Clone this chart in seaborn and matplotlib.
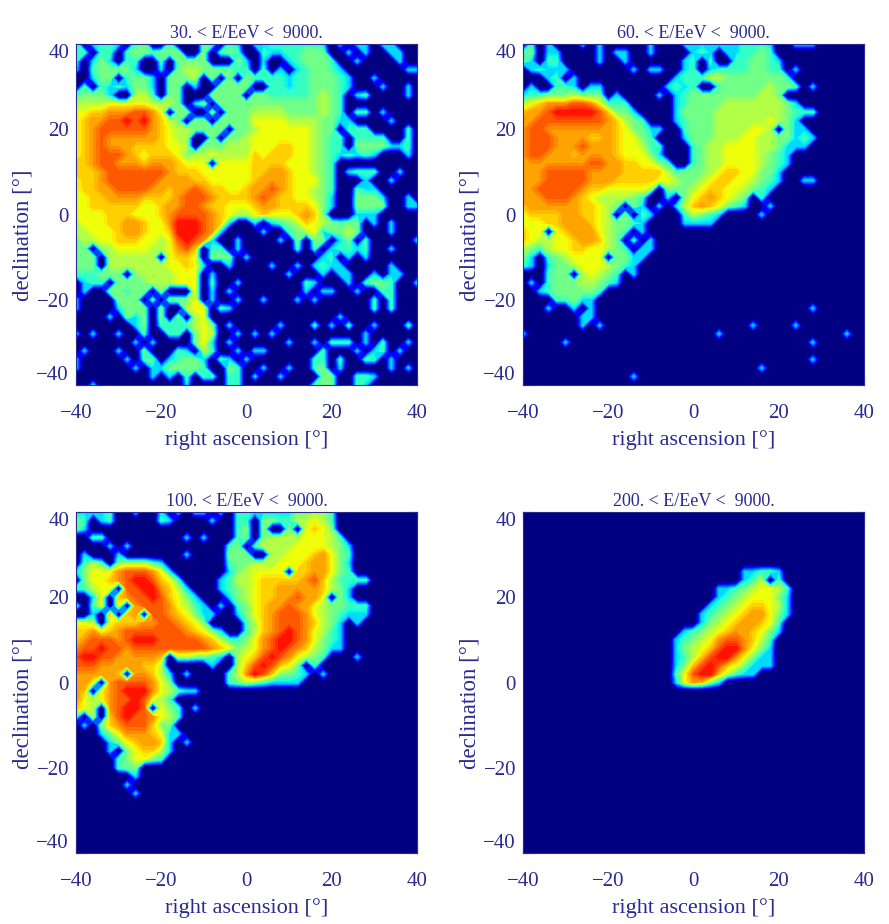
import numpy as np
import pandas as pd
import matplotlib
matplotlib.use("Agg")
import matplotlib.pyplot as plt
import seaborn as sns

# level digits, rows from dec +40 down to -40, columns ra -40 to +40
ra_values = list(range(-40, 42, 2))
dec_values = list(range(40, -42, -2))
level_values = [-0.12, 0.33, 0.42, 0.49, 0.56, 0.63, 0.69, 0.75, 0.81, 0.9]

panel_a = [
    "30122102300200032021011222222101011011000",
    "22022023323330030232002112233300101001100",
    "20131022002033330003101001233320010000100",
    "10233331001034433332202010123321000000011",
    "00133023310333403030322221223332100100000",
    "02021213310330100333300221223332100010010",
    "23331004420330003333033222223432012000010",
    "44445555544430130333333333333432000000000",
    "55667778875033003033344443333432022010000",
    "56778898976430330333355554444331100001000",
    "56788888876544333303345555554330222000020",
    "56787777776544003033455555554322022220020",
    "56787776666554033344455566554322033331120",
    "56788876566653445444465666554321212100010",
    "66788777677765550555566665554320000000000",
    "66678888888766655555566776554320122200100",
    "56678888887777665555567776555320001001000",
    "56677888877677876655677876554320021100000",
    "55667777666678887666678766554310033310010",
    "55666666556778876655567766665310033330011",
    "55556665556788887654456555676300011100000",
    "45556677655799987610010123465432330101000",
    "44555677655699987100001002345133430001000",
    "34455666554589871001000010303301302000001",
    "33034555544578602201000000202012212001000",
    "33304444440566503330100000000120101000000",
    "33304444444556510010000100101211000001000",
    "22233303444455501000000001000101100101100",
    "01220333344455502001000000021000102332001",
    "01003323303000501010000000010110010022000",
    "10000333020333501001001000101000000202000",
    "10000133303004550210000000000000000202000",
    "00001031303030450000000000000001000000000",
    "00000001302222453010000010002010200100020",
    "10100100200220354001010100000000001000000",
    "00000001010000351010000001001022201020010",
    "01000100300021042001011000000200010120100",
    "10000010230123310210100000002202002201000",
    "10000001011333320032001001002301000001010",
    "00000000010102022022010010000330022100000",
    "00100000000001000022000000002330021000000",
]

panel_b = [
    "020100010100000100011111112221" "00111",
    "230110000101100100001210112232",
    "310220000100100000012020022332" "1",
    "012111000000010110012012222332" "201",
    "000120100000000000122244333333" "32",
    "010022101100000001212002333334" "33201",
    "122333433301000010123333333344" "30",
    "456777887522200000123333444444" "431",
    "677899999863310000133334444444" "43222",
    "778888888876432000123334444445" "431",
    "788777777776533110023334444554" "0311",
    "788877776676553200013334445544" "33121",
    "788877787776554220002344555544" "3111",
    "788777677776555310002344555543" "21",
    "777777778877665532002344555543" "21",
    "777888887777666664233345665533" "1",
    "777888887776666655433456655432" "10011",
    "778888876655555403334566554321",
    "777888765444432001035676543020",
    "677777766543031010146765321001",
    "566667766540302100024321000010",
    "555667776543321000011110000000",
    "65505677754320100000000000000",
    "65445567764302010000000000000",
    "43245566554320110000000000000",
    "31023455550331100000000000000",
    "21013345554321000000000000000",
    "00023304543201000000000000000",
    "01023334432100000000000000000",
    "00123333320000000000000000000",
    "00002231100000000000000000000",
    "00010010100000000000000000000000001",
    "00000001100000000000000000000",
    "000000010100000000000000000100001",
    "10000000000000000000000100000000000000100",
    "00000100000000000000000000000000001",
    "",
    "00000000000000000000000000000000001",
    "00000000000000000000000000001",
    "00000000000001",
    "",
]

panel_c = [
    "11112001001010110102" "2111113344" "2",
    "32012000002100001002" "2033224454" "2",
    "31000000000000000002" "3030030565" "3",
    "00220000000001010002" "3034444555" "42",
    "00001010000000000023" "0244445555" "431",
    "01000100000001000033" "3004455567" "532",
    "02420344421000000023" "3444555677" "531",
    "13555788875100000013" "4555506677" "532",
    "03556789986520000124" "4566666786" "42222",
    "22455088997641000123" "4566777776" "431",
    "00150678898653100013" "4566778775" "031",
    "20250507888754210102" "3567787754" "33222",
    "00106067088765311001" "3567888754" "32111",
    "55405666778876530000" "2467888764" "3101",
    "66756788888887653100" "2467898754" "21",
    "67888789998888876422" "3578998753" "21",
    "78898878888888887653" "4578987643" "11",
    "89988777776044332104" "5689875432" "0001",
    "88877777664000001004" "6898653020",
    "77777607764101000024" "7986332101",
    "77507888875300000023" "43211110",
    "76057899975421100000",
    "7545788985420",
    "654078998053201",
    "2040689887542",
    "010367888633",
    "0001357776511",
    "000013567761010",
    "0000103566410",
    "00000235532",
    "0000023300",
    "00000001",
    "0000001",
    "00000001",
    "", "", "", "", "", "", "",
]

panel_d = [
    "", "", "", "", "", "", "",
    "0000000000000000000000000011221",
    "0000000000000000000000000012402",
    "00000000000000000000000112345542",
    "00000000000000000000000123455531",
    "00000000000000000000001234566541",
    "00000000000000000000012345677531",
    "0000000000000000000001345677652",
    "0000000000000000000123456776531",
    "000000000000000000123457887642",
    "000000000000000000134568997531",
    "000000000000000000124689975311",
    "000000000000000000136898653111",
    "00000000000000000025899642110",
    "0000000000000000001576310",
    "", "", "", "", "", "", "", "", "", "", "", "", "", "", "", "", "", "", "", "",
]

panel_titles = [
    "30. < E/EeV <  9000.",
    "60. < E/EeV <  9000.",
    "100. < E/EeV <  9000.",
    "200. < E/EeV <  9000.",
]
tick_values = [-40, -20, 0, 20, 40]
tick_labels = ["\u221240", "\u221220", "0", "20", "40"]
minor_values = list(range(-40, 45, 5))

ink = "#2a2a90"


def to_grid(rows):
    return np.array([[level_values[int(ch)] for ch in row.ljust(41, "0")[:41]] for row in rows])


def draw_panel(ax, rows, title):
    grid = pd.DataFrame(to_grid(rows), index=dec_values, columns=ra_values)
    sns.heatmap(grid, ax=ax, cmap="jet", vmin=0, vmax=1, cbar=False,
                xticklabels=False, yticklabels=False)
    # the cells are smoothed the way the original contour fill does it
    xy = np.arange(41) + 0.5
    ax.contourf(xy, xy, grid.values, levels=np.linspace(0, 1, 41),
                cmap="jet", vmin=0, vmax=1, extend="min")
    ax.set_xlim(0.5, 40.5)
    ax.set_ylim(40.5, 0.5)
    ax.set_xticks([(v + 40) / 2 + 0.5 for v in tick_values], tick_labels)
    ax.set_yticks([(40 - v) / 2 + 0.5 for v in tick_values], tick_labels, rotation=0)
    ax.set_xticks([(v + 40) / 2 + 0.5 for v in minor_values], minor=True)
    ax.set_yticks([(40 - v) / 2 + 0.5 for v in minor_values], minor=True)
    ax.tick_params(which="major", direction="in", length=7.2, width=0.8, color=ink,
                   labelcolor=ink, labelsize=15, top=True, right=True, bottom=True, left=True)
    ax.tick_params(which="minor", direction="in", length=3.6, width=0.8, color=ink,
                   top=True, right=True, bottom=True, left=True)
    ax.tick_params(axis="x", which="major", pad=14)
    ax.tick_params(axis="y", which="major", pad=5)
    ylabels = ax.get_yticklabels()
    ylabels[0].set_va("bottom")
    ylabels[-1].set_va("top")
    for spine in ax.spines.values():
        spine.set_visible(True)
        spine.set_color(ink)
        spine.set_linewidth(0.8)
    ax.set_title(title, fontsize=13, color=ink, pad=4)
    ax.set_xlabel("right ascension [\u00b0]", fontsize=16, color=ink, labelpad=5)
    ax.set_ylabel("declination [\u00b0]", fontsize=16.5, color=ink, labelpad=2, y=0.44)


sns.set_style("white")
plt.rcParams["font.family"] = ["Liberation Serif", "DejaVu Serif"]

fig = plt.figure(figsize=(8.89, 9.24), dpi=100)
w = 341 / 889
h = 341 / 924
boxes = [
    (76 / 889, 1 - 385 / 924),
    (523 / 889, 1 - 385 / 924),
    (76 / 889, 1 - 853 / 924),
    (523 / 889, 1 - 853 / 924),
]
panels = [panel_a, panel_b, panel_c, panel_d]
for (x0, y0), rows, title in zip(boxes, panels, panel_titles):
    ax = fig.add_axes([x0, y0, w, h])
    draw_panel(ax, rows, title)

fig.savefig("out.png", dpi=100)
